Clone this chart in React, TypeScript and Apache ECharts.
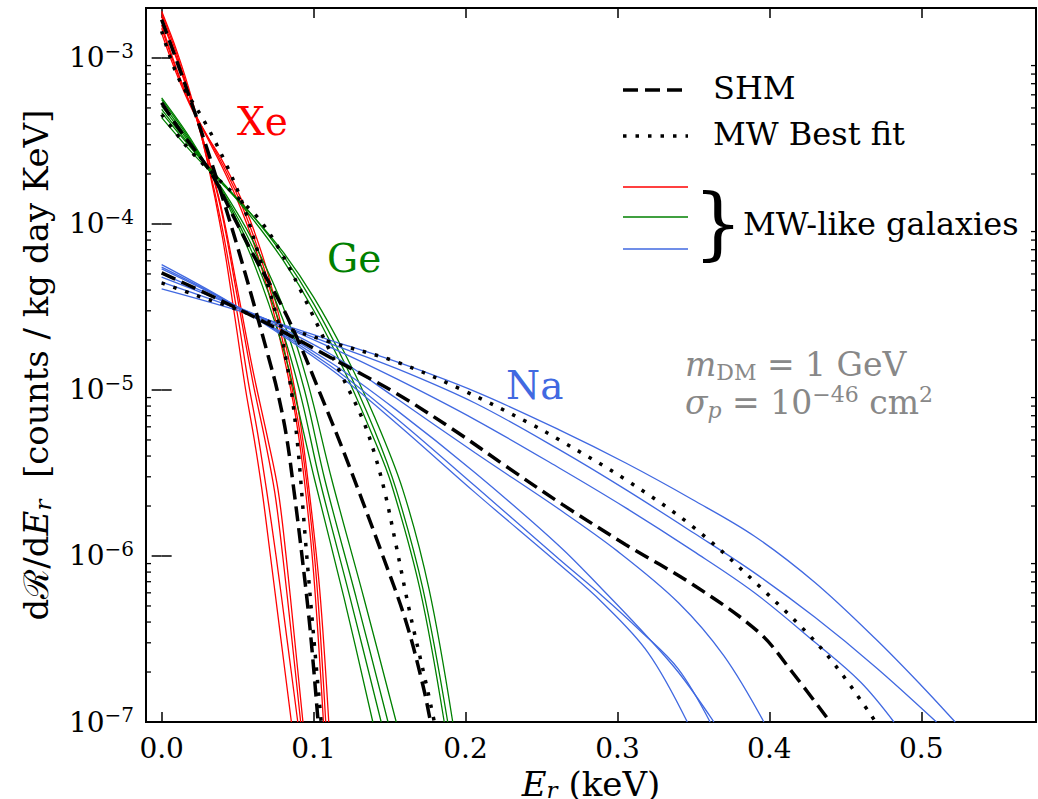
import React, { useEffect, useRef } from 'react';
import * as echarts from 'echarts';

type Pt = [number, number];

// ---------- Xe (red) ----------
const xeShm: Pt[] = [[0,1.70e-3],[0.01,9.55e-4],[0.02,5.25e-4],[0.03,2.82e-4],[0.04,1.45e-4],[0.05,7.24e-5],[0.06,3.47e-5],[0.07,1.62e-5],[0.076,1.0e-5],[0.082,5.37e-6],[0.087,2.51e-6],[0.092,1.07e-6],[0.0975,3.80e-7],[0.103,1.0e-7]];
const xeMwBestFit: Pt[] = [[0,1.45e-3],[0.011,7.59e-4],[0.028,4.17e-4],[0.042,2.34e-4],[0.053,1.35e-4],[0.065,6.03e-5],[0.077,2.51e-5],[0.082,1.51e-5],[0.086,8.91e-6],[0.09,4.17e-6],[0.0948,1.20e-6],[0.1,3.31e-7],[0.105,1.0e-7]];
const xeGalaxies: Pt[][] = [
  [[0,1.91e-3],[0.01,1.10e-3],[0.02,5.62e-4],[0.03,2.40e-4],[0.04,8.32e-5],[0.048,2.82e-5],[0.0553,1.0e-5],[0.061,5.01e-6],[0.066,2.51e-6],[0.0716,1.0e-6],[0.0785,3.16e-7],[0.0854,1.0e-7]],
  [[0,1.86e-3],[0.01,1.05e-3],[0.02,5.37e-4],[0.03,2.45e-4],[0.04,9.33e-5],[0.05,2.82e-5],[0.057,1.12e-5],[0.063,5.62e-6],[0.069,2.51e-6],[0.0753,1.0e-6],[0.0825,3.16e-7],[0.0896,1.0e-7]],
  [[0,1.78e-3],[0.01,1.0e-3],[0.02,5.37e-4],[0.03,2.63e-4],[0.04,1.12e-4],[0.05,3.55e-5],[0.06,1.12e-5],[0.068,5.01e-6],[0.0745,2.40e-6],[0.0797,1.0e-6],[0.0857,3.16e-7],[0.0915,1.0e-7]],
  [[0,1.70e-3],[0.01,9.77e-4],[0.02,5.25e-4],[0.03,2.63e-4],[0.04,1.17e-4],[0.05,3.98e-5],[0.06,1.32e-5],[0.07,5.01e-6],[0.0766,2.51e-6],[0.0819,1.0e-6],[0.0875,3.16e-7],[0.093,1.0e-7]],
  [[0,1.58e-3],[0.01,8.51e-4],[0.02,5.01e-4],[0.03,3.31e-4],[0.04,2.19e-4],[0.05,1.38e-4],[0.06,7.94e-5],[0.07,3.98e-5],[0.08,1.66e-5],[0.088,7.08e-6],[0.094,2.82e-6],[0.1,7.94e-7],[0.1065,1.0e-7]],
  [[0,1.51e-3],[0.01,8.32e-4],[0.02,5.01e-4],[0.03,3.39e-4],[0.04,2.29e-4],[0.05,1.48e-4],[0.06,8.71e-5],[0.07,4.47e-5],[0.08,1.91e-5],[0.09,6.31e-6],[0.096,2.51e-6],[0.102,7.08e-7],[0.108,1.0e-7]],
  [[0,1.41e-3],[0.01,7.94e-4],[0.02,4.90e-4],[0.03,3.39e-4],[0.04,2.40e-4],[0.05,1.58e-4],[0.06,9.55e-5],[0.07,5.01e-5],[0.08,2.19e-5],[0.09,7.59e-6],[0.097,2.51e-6],[0.104,6.31e-7],[0.110,1.0e-7]],
];

// ---------- Ge (green) ----------
const geShm: Pt[] = [[0,5.37e-4],[0.0116,3.72e-4],[0.0324,2.04e-4],[0.047,1.12e-4],[0.06,6.61e-5],[0.0795,3.16e-5],[0.0926,1.74e-5],[0.1034,1.0e-5],[0.121,3.98e-6],[0.1456,1.0e-6],[0.161,3.98e-7],[0.172,1.66e-7],[0.177,1.0e-7]];
const geMwBestFit: Pt[] = [[0,4.57e-4],[0.01,3.47e-4],[0.02,2.69e-4],[0.035,1.95e-4],[0.0488,1.48e-4],[0.0641,1.07e-4],[0.0773,7.08e-5],[0.0926,3.80e-5],[0.1167,1.32e-5],[0.132,6.76e-6],[0.14,4.17e-6],[0.147,2.40e-6],[0.1544,1.15e-6],[0.1631,4.68e-7],[0.1741,1.70e-7],[0.1795,1.0e-7]];
const geGalaxies: Pt[][] = [
  [[0,5.75e-4],[0.02,3.16e-4],[0.04,1.51e-4],[0.06,6.03e-5],[0.08,1.78e-5],[0.09,7.59e-6],[0.1007,2.88e-6],[0.12,5.62e-7],[0.139,1.0e-7]],
  [[0,5.62e-4],[0.02,3.09e-4],[0.04,1.55e-4],[0.06,6.61e-5],[0.08,2.19e-5],[0.092,8.91e-6],[0.104,2.88e-6],[0.124,5.62e-7],[0.1445,1.0e-7]],
  [[0,5.37e-4],[0.02,3.02e-4],[0.04,1.58e-4],[0.06,7.24e-5],[0.08,2.63e-5],[0.094,1.0e-5],[0.1074,2.88e-6],[0.128,5.62e-7],[0.149,1.0e-7]],
  [[0,5.13e-4],[0.02,2.95e-4],[0.04,1.62e-4],[0.06,7.94e-5],[0.08,3.16e-5],[0.096,1.12e-5],[0.112,2.88e-6],[0.133,5.62e-7],[0.1544,1.0e-7]],
  [[0,4.90e-4],[0.02,2.88e-4],[0.04,1.78e-4],[0.06,1.07e-4],[0.08,6.03e-5],[0.1,3.02e-5],[0.12,1.32e-5],[0.14,5.01e-6],[0.151,2.75e-6],[0.17,6.31e-7],[0.186,1.0e-7]],
  [[0,4.68e-4],[0.02,2.82e-4],[0.04,1.78e-4],[0.06,1.12e-4],[0.08,6.46e-5],[0.1,3.31e-5],[0.12,1.48e-5],[0.14,5.75e-6],[0.1544,2.51e-6],[0.172,6.31e-7],[0.1883,1.0e-7]],
  [[0,4.37e-4],[0.02,2.69e-4],[0.04,1.74e-4],[0.06,1.12e-4],[0.08,6.76e-5],[0.1,3.63e-5],[0.12,1.70e-5],[0.14,6.92e-6],[0.1587,2.51e-6],[0.176,6.31e-7],[0.1916,1.0e-7]],
];

// ---------- Na (blue) ----------
const naShm: Pt[] = [[0,5.07e-5],[0.025,3.98e-5],[0.05,3.09e-5],[0.08,2.24e-5],[0.1105,1.58e-5],[0.1544,9.55e-6],[0.1938,5.62e-6],[0.2267,3.47e-6],[0.2639,2.04e-6],[0.3055,1.17e-6],[0.3493,6.76e-7],[0.3931,3.47e-7],[0.415,2.0e-7],[0.44,1.0e-7]];
const naMwBestFit: Pt[] = [[0,4.42e-5],[0.0225,3.72e-5],[0.0422,3.24e-5],[0.0773,2.45e-5],[0.1105,1.95e-5],[0.1544,1.48e-5],[0.198,1.0e-5],[0.242,6.31e-6],[0.2617,5.01e-6],[0.3055,2.88e-6],[0.3493,1.51e-6],[0.3931,6.61e-7],[0.4369,2.60e-7],[0.47,1.0e-7]];
const naGalaxies: Pt[][] = [
  [[0,5.69e-5],[0.05,3.16e-5],[0.1105,1.35e-5],[0.1544,6.31e-6],[0.2065,2.40e-6],[0.2617,8.91e-7],[0.29,5.25e-7],[0.32,2.63e-7],[0.346,1.0e-7]],
  [[0,5.50e-5],[0.05,3.16e-5],[0.1105,1.41e-5],[0.1544,6.76e-6],[0.2065,2.63e-6],[0.2617,9.55e-7],[0.29,5.75e-7],[0.315,3.55e-7],[0.34,2.09e-7],[0.361,1.0e-7]],
  [[0,5.37e-5],[0.05,3.16e-5],[0.1105,1.48e-5],[0.1544,7.59e-6],[0.2065,3.16e-6],[0.2617,1.15e-6],[0.29,6.31e-7],[0.315,3.63e-7],[0.34,2.0e-7],[0.3635,1.0e-7]],
  [[0,5.01e-5],[0.05,3.16e-5],[0.1105,1.66e-5],[0.1544,8.91e-6],[0.2065,4.17e-6],[0.2617,1.91e-6],[0.30,1.07e-6],[0.34,5.25e-7],[0.37,2.51e-7],[0.3964,1.0e-7]],
  [[0,4.79e-5],[0.05,3.16e-5],[0.1105,1.82e-5],[0.1544,1.17e-5],[0.2065,6.61e-6],[0.2617,3.39e-6],[0.3055,1.95e-6],[0.35,1.07e-6],[0.39,6.03e-7],[0.43,3.02e-7],[0.46,1.74e-7],[0.482,1.0e-7]],
  [[0,4.47e-5],[0.05,3.09e-5],[0.1105,1.91e-5],[0.1544,1.35e-5],[0.2065,8.32e-6],[0.2617,4.37e-6],[0.3055,2.51e-6],[0.35,1.38e-6],[0.39,7.94e-7],[0.43,4.27e-7],[0.47,2.14e-7],[0.51,1.0e-7]],
  [[0,4.07e-5],[0.05,3.02e-5],[0.1105,2.00e-5],[0.1544,1.48e-5],[0.2065,9.77e-6],[0.2617,5.75e-6],[0.3055,3.63e-6],[0.3493,2.19e-6],[0.39,1.32e-6],[0.43,6.92e-7],[0.47,3.16e-7],[0.50,1.66e-7],[0.5223,1.0e-7]],
];

// ---------- axes ----------
const X_MIN = -0.0103;
const X_MAX = 0.5755;
const Y_MIN = 1e-7;
const Y_MAX = 2e-3;
const xTickValues = [0, 0.1, 0.2, 0.3, 0.4, 0.5];
const yDecades = [-7, -6, -5, -4, -3];
const minorMultipliers = [2, 3, 4, 5, 6, 7, 8, 9];

const RED = '#ff0000';
const GREEN = '#008000';
const BLUE = '#4169e1';
const GREY = '#888888';
const FONT = "'DejaVu Serif'";
const DASH = [15, 7];
const DOT = [3.5, 9];

function lineSeries(data: Pt[], color: string, width: number, type: any, z: number) {
  return {
    type: 'line',
    data,
    symbol: 'none',
    showSymbol: false,
    smooth: 0.35,
    silent: true,
    clip: true,
    z,
    lineStyle: { color, width, type, cap: 'butt' },
  };
}

const minorTickValues: number[] = [];
yDecades.forEach((d) => {
  minorMultipliers.forEach((m) => {
    const v = m * Math.pow(10, d);
    if (v < Y_MAX) minorTickValues.push(v);
  });
});

function yLabel(v: number) {
  const e = Math.log10(v);
  const r = Math.round(e);
  if (Math.abs(e - r) > 0.01) return '';
  return `{b|10}{e|${r < 0 ? '\u2212' : ''}${Math.abs(r)}}`;
}

function xLabel(v: number) {
  if (Math.abs(v * 10 - Math.round(v * 10)) > 1e-6) return '';
  return v.toFixed(1);
}

function buildOption() {
  const series: any[] = [];
  xeGalaxies.forEach((c) => series.push(lineSeries(c, RED, 1.3, 'solid', 2)));
  geGalaxies.forEach((c) => series.push(lineSeries(c, GREEN, 1.3, 'solid', 2)));
  naGalaxies.forEach((c) => series.push(lineSeries(c, BLUE, 1.3, 'solid', 2)));
  [xeShm, geShm, naShm].forEach((c) => series.push(lineSeries(c, '#000', 3.5, DASH, 3)));
  [xeMwBestFit, geMwBestFit, naMwBestFit].forEach((c) => series.push(lineSeries(c, '#000', 3.5, DOT, 3)));

  series.push({
    type: 'custom',
    silent: true,
    clip: false,
    z: 10,
    data: minorTickValues.map((v) => [X_MIN, v]),
    renderItem: (_p: any, api: any) => {
      const v = api.value(1);
      const l = api.coord([X_MIN, v]);
      const r = api.coord([X_MAX, v]);
      return {
        type: 'group',
        children: [
          { type: 'line', shape: { x1: l[0], y1: l[1], x2: l[0] + 5, y2: l[1] }, style: { stroke: '#000', lineWidth: 1.3 } },
          { type: 'line', shape: { x1: r[0] - 5, y1: r[1], x2: r[0], y2: r[1] }, style: { stroke: '#000', lineWidth: 1.3 } },
        ],
      };
    },
  });

  const tickStyle = { show: true, inside: true, length: 10, lineStyle: { color: '#000', width: 1.5 } };
  const nameRich = {
    n: { fontSize: 34, fontFamily: FONT, color: '#000', lineHeight: 36 },
    i: { fontSize: 34, fontFamily: FONT, fontStyle: 'italic', color: '#000', lineHeight: 36 },
    s: { fontSize: 23, fontFamily: FONT, fontStyle: 'italic', color: '#000', lineHeight: 20, verticalAlign: 'bottom' },
  };

  return {
    animation: false,
    backgroundColor: '#fff',
    textStyle: { fontFamily: FONT },
    grid: {
      left: 146, right: 2, top: 8, bottom: 77,
      containLabel: false, outerBoundsMode: 'none',
      show: true, borderColor: '#000', borderWidth: 2, backgroundColor: 'transparent',
    },
    xAxis: [
      {
        type: 'value', min: X_MIN, max: X_MAX, position: 'bottom',
        axisLine: { show: false },
        splitLine: { show: false },
        axisTick: { ...tickStyle, customValues: xTickValues },
        axisLabel: { customValues: xTickValues, formatter: xLabel, fontSize: 28, fontFamily: FONT, color: '#000', margin: 12 },
        name: '{i|E}{s|r}{n| (keV)}',
        nameLocation: 'middle',
        nameGap: 30,
        nameTextStyle: { fontFamily: FONT, rich: nameRich },
      },
      {
        type: 'value', min: X_MIN, max: X_MAX, position: 'top',
        axisLine: { show: false },
        splitLine: { show: false },
        axisTick: { ...tickStyle, customValues: xTickValues },
        axisLabel: { show: false },
      },
    ],
    yAxis: [
      {
        type: 'log', logBase: 10, min: Y_MIN, max: Y_MAX, position: 'left',
        axisLine: { show: false },
        splitLine: { show: false },
        minorTick: { show: false },
        axisTick: tickStyle,
        axisLabel: {
          formatter: yLabel, margin: 12, fontFamily: FONT,
          rich: {
            b: { fontSize: 28, fontFamily: FONT, color: '#000', lineHeight: 34 },
            e: { fontSize: 20, fontFamily: FONT, color: '#000', lineHeight: 16, verticalAlign: 'top' },
          },
        },
        name: '{n|d\u211B/d}{i|E}{s|r}{n|  [counts / kg day KeV]}',
        nameLocation: 'middle',
        nameGap: 92,
        nameRotate: 90,
        nameTextStyle: { fontFamily: FONT, rich: nameRich },
      },
      {
        type: 'log', logBase: 10, min: Y_MIN, max: Y_MAX, position: 'right',
        axisLine: { show: false },
        splitLine: { show: false },
        axisTick: tickStyle,
        axisLabel: { show: false },
      },
    ],
    series,
    graphic: [
      { type: 'text', x: 237, y: 121, z: 20, style: { text: 'Xe', fontSize: 39, fontFamily: FONT, fill: RED, verticalAlign: 'middle' } },
      { type: 'text', x: 327, y: 258, z: 20, style: { text: 'Ge', fontSize: 39, fontFamily: FONT, fill: GREEN, verticalAlign: 'middle' } },
      { type: 'text', x: 506, y: 385, z: 20, style: { text: 'Na', fontSize: 39, fontFamily: FONT, fill: BLUE, verticalAlign: 'middle' } },
      { type: 'line', z: 20, shape: { x1: 623, y1: 90, x2: 688, y2: 90 }, style: { stroke: '#000', lineWidth: 3.5, lineDash: DASH } },
      { type: 'line', z: 20, shape: { x1: 623, y1: 136, x2: 688, y2: 136 }, style: { stroke: '#000', lineWidth: 3.5, lineDash: DOT } },
      { type: 'text', x: 713, y: 88, z: 20, style: { text: 'SHM', fontSize: 32, fontFamily: FONT, fill: '#000', verticalAlign: 'middle' } },
      { type: 'text', x: 713, y: 134, z: 20, style: { text: 'MW Best fit', fontSize: 32, fontFamily: FONT, fill: '#000', verticalAlign: 'middle' } },
      { type: 'line', z: 20, shape: { x1: 623, y1: 187, x2: 688, y2: 187 }, style: { stroke: RED, lineWidth: 1.5 } },
      { type: 'line', z: 20, shape: { x1: 623, y1: 217, x2: 688, y2: 217 }, style: { stroke: GREEN, lineWidth: 1.5 } },
      { type: 'line', z: 20, shape: { x1: 623, y1: 249, x2: 688, y2: 249 }, style: { stroke: BLUE, lineWidth: 1.5 } },
      { type: 'text', x: 718, y: 223, z: 20, style: { text: '}', fontSize: 78, fontFamily: FONT, fill: '#000', align: 'center', verticalAlign: 'middle' } },
      { type: 'text', x: 743, y: 224, z: 20, style: { text: 'MW-like galaxies', fontSize: 32, fontFamily: FONT, fill: '#000', verticalAlign: 'middle' } },
      {
        type: 'text', x: 685, y: 364, z: 20,
        style: {
          text: '{i|m}{sub|DM}{n| = 1 GeV}', verticalAlign: 'middle', fontFamily: FONT,
          rich: {
            i: { fontSize: 33, fontFamily: FONT, fontStyle: 'italic', fill: GREY, lineHeight: 38 },
            n: { fontSize: 33, fontFamily: FONT, fill: GREY, lineHeight: 38 },
            sub: { fontSize: 22, fontFamily: FONT, fill: GREY, lineHeight: 22, verticalAlign: 'bottom' },
          },
        },
      },
      {
        type: 'text', x: 685, y: 402, z: 20,
        style: {
          text: '{i|\u03C3}{isub|p}{n| = 10}{sup|\u221246}{n| cm}{sup|2}', verticalAlign: 'middle', fontFamily: FONT,
          rich: {
            i: { fontSize: 33, fontFamily: FONT, fontStyle: 'italic', fill: GREY, lineHeight: 38 },
            n: { fontSize: 33, fontFamily: FONT, fill: GREY, lineHeight: 38 },
            isub: { fontSize: 22, fontFamily: FONT, fontStyle: 'italic', fill: GREY, lineHeight: 22, verticalAlign: 'bottom' },
            sup: { fontSize: 22, fontFamily: FONT, fill: GREY, lineHeight: 20, verticalAlign: 'top' },
          },
        },
      },
    ],
  };
}

export default function App() {
  const ref = useRef<HTMLDivElement>(null);
  useEffect(() => {
    if (!ref.current) return;
    const chart = echarts.init(ref.current, null, { renderer: 'svg' });
    chart.setOption(buildOption() as any);
    return () => chart.dispose();
  }, []);
  return (
    <div
      ref={ref}
      style={{ position: 'absolute', left: 0, top: 0, width: 1038, height: 799, background: '#fff' }}
    />
  );
}
